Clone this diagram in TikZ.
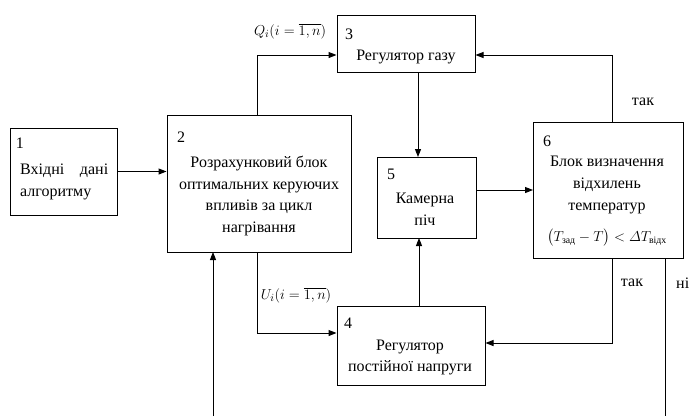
\documentclass[tikz,border=0pt]{standalone}
\usepackage{amsmath}
\usepackage{fontspec}
\setmainfont{Liberation Serif}
\usetikzlibrary{arrows.meta}
\begin{document}
\begin{tikzpicture}[x=1pt,y=-1pt,
  box/.style={draw,line width=1pt,inner sep=0pt},
  txt/.style={inner sep=0pt,align=center,font=\rmfamily\fontsize{16}{21.7}\selectfont},
  lbl/.style={inner sep=0pt,font=\rmfamily\fontsize{15}{18}\selectfont},
  num/.style={inner sep=0pt,font=\rmfamily\fontsize{16}{20}\selectfont},
  conn/.style={line width=1pt},
  arr/.style={line width=1pt,-{Triangle[length=8pt,width=6pt]}}]
\useasboundingbox (0,0) rectangle (689,416);
% boxes
\node[box,minimum width=107pt,minimum height=87pt] (b1) at (63.5,171.5) {};
\node[box,minimum width=184pt,minimum height=137pt] (b2) at (259,183.5) {};
\node[box,minimum width=138pt,minimum height=57pt] (b3) at (406,43.5) {};
\node[box,minimum width=148pt,minimum height=79pt] (b4) at (411,345.5) {};
\node[box,minimum width=99pt,minimum height=81pt] (b5) at (426.5,197.5) {};
\node[box,minimum width=150pt,minimum height=136pt] (b6) at (608,190) {};
% numbers
\node[num] (n1) at (20,143) {1};
\node[num] (n2) at (181,137) {2};
\node[num] (n3) at (349,34) {3};
\node[num] (n4) at (348,323) {4};
\node[num] (n5) at (391,174) {5};
\node[num] (n6) at (547,141) {6};
% texts
\node[txt,align=left,text width=88pt,anchor=north west] (t1) at (20,164) {Вхідні\hfill дані\\алгоритму};
\node[txt] (t2) at (259,196) {Розрахунковий блок\\оптимальних керуючих\\впливів за цикл\\нагрівання};
\node[txt] (t3) at (406,57) {Регулятор газу};
\node[txt] (t4) at (410,357.5) {Регулятор\\постійної напруги};
\node[txt] (t5) at (425,209) {Камерна\\піч};
\node[txt] (t6) at (607,185) {Блок визначення\\відхилень\\температур};
\node[txt,font=\rmfamily\fontsize{14}{18}\selectfont] (f6) at (607,238) {$\bigl(T_{\text{зад}}-T\bigr)<\varDelta T_{\text{відх}}$};
% labels
\node[lbl] (lq) at (290,31) {$Q_i(i=\overline{1,n})$};
\node[lbl] (lu) at (296,295) {$U_i(i=\overline{1,n})$};
\node[txt] (ly1) at (643,102) {так};
\node[txt] (ly2) at (632,283) {так};
\node[txt,anchor=west] (ln) at (676,283) {ні};
% coordinates
\coordinate (in2) at (213,416);
\coordinate (out6) at (665,416);
% connectors
\draw[arr] (b1.east) -- (b2.west |- b1.east);
\draw[arr] (257,115) -- (257,55) -- (b3.west |- 0,55);
\draw[arr] (257,252) -- (257,333) -- (b4.west |- 0,333);
\draw[arr] (418,72) -- (418,157);
\draw[arr] (419,306) -- (419,238);
\draw[arr] (476,190) -- (533,190);
\draw[arr] (612,122) -- (612,55) -- (b3.east |- 0,55);
\draw[arr] (612,258) -- (612,343) -- (b4.east |- 0,343);
\draw[arr] (in2) -- (213,252);
\draw[conn] (665,258) -- (out6);
\end{tikzpicture}
\end{document}
